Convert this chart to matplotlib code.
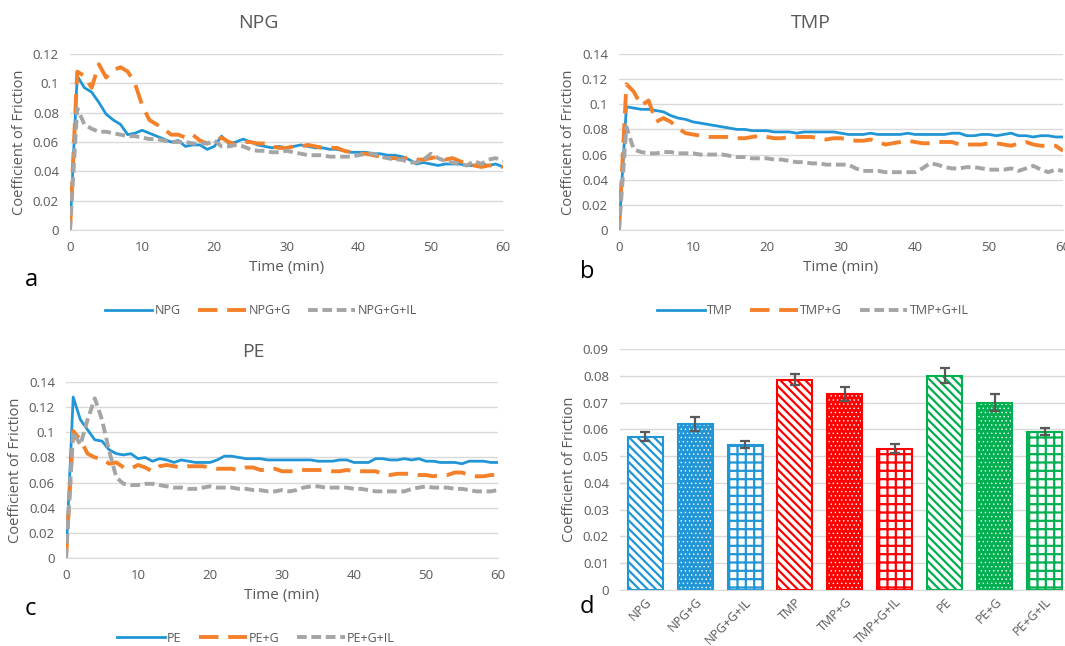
import matplotlib
matplotlib.use('Agg')
import matplotlib.pyplot as plt
import numpy as np

plt.rcParams['font.family'] = ['Open Sans', 'DejaVu Sans']
plt.rcParams['hatch.linewidth'] = 1.6

# ---- data ----
time_min = list(range(61))

npg = [0, 0.105, 0.097, 0.094, 0.087, 0.079, 0.075, 0.072, 0.065, 0.066,
       0.068, 0.066, 0.064, 0.062, 0.060, 0.061, 0.057, 0.058, 0.058, 0.055,
       0.057, 0.064, 0.059, 0.060, 0.062, 0.060, 0.058, 0.057, 0.056, 0.057,
       0.056, 0.057, 0.058, 0.057, 0.056, 0.056, 0.055, 0.055, 0.054, 0.053,
       0.053, 0.053, 0.052, 0.052, 0.051, 0.051, 0.050, 0.048, 0.045, 0.046,
       0.045, 0.044, 0.045, 0.045, 0.045, 0.044, 0.044, 0.045, 0.044, 0.045,
       0.043]
npg_g = [0, 0.108, 0.105, 0.097, 0.113, 0.104, 0.109, 0.111, 0.108, 0.100,
         0.085, 0.075, 0.072, 0.069, 0.065, 0.065, 0.063, 0.065, 0.061, 0.059,
         0.060, 0.063, 0.060, 0.058, 0.060, 0.060, 0.059, 0.059, 0.057, 0.056,
         0.056, 0.057, 0.057, 0.058, 0.057, 0.056, 0.056, 0.056, 0.054, 0.053,
         0.052, 0.052, 0.051, 0.050, 0.049, 0.049, 0.048, 0.050, 0.048, 0.048,
         0.049, 0.050, 0.048, 0.049, 0.047, 0.045, 0.044, 0.043, 0.044, 0.044,
         0.043]
npg_g_il = [0, 0.083, 0.072, 0.069, 0.067, 0.067, 0.066, 0.065, 0.064, 0.064,
            0.063, 0.062, 0.062, 0.061, 0.060, 0.060, 0.060, 0.059, 0.059, 0.059,
            0.061, 0.057, 0.057, 0.058, 0.057, 0.055, 0.054, 0.054, 0.053, 0.053,
            0.054, 0.053, 0.052, 0.051, 0.051, 0.051, 0.050, 0.050, 0.050, 0.050,
            0.051, 0.052, 0.052, 0.050, 0.049, 0.048, 0.048, 0.046, 0.046, 0.048,
            0.052, 0.049, 0.047, 0.046, 0.045, 0.044, 0.047, 0.045, 0.048, 0.049,
            0.047]

tmp = [0, 0.098, 0.097, 0.096, 0.096, 0.095, 0.094, 0.091, 0.089, 0.088,
       0.086, 0.085, 0.084, 0.083, 0.082, 0.081, 0.080, 0.080, 0.079, 0.079,
       0.079, 0.078, 0.078, 0.078, 0.077, 0.078, 0.078, 0.078, 0.078, 0.078,
       0.077, 0.076, 0.076, 0.076, 0.077, 0.076, 0.076, 0.076, 0.076, 0.077,
       0.076, 0.076, 0.076, 0.076, 0.076, 0.077, 0.077, 0.075, 0.075, 0.076,
       0.076, 0.075, 0.076, 0.077, 0.075, 0.075, 0.074, 0.075, 0.075, 0.074,
       0.074]
tmp_g = [0, 0.116, 0.110, 0.099, 0.103, 0.086, 0.089, 0.086, 0.081, 0.077,
         0.076, 0.075, 0.074, 0.074, 0.074, 0.074, 0.073, 0.073, 0.074, 0.075,
         0.074, 0.073, 0.073, 0.074, 0.074, 0.074, 0.074, 0.073, 0.072, 0.073,
         0.073, 0.072, 0.071, 0.071, 0.072, 0.070, 0.068, 0.069, 0.070, 0.071,
         0.070, 0.069, 0.069, 0.070, 0.070, 0.070, 0.068, 0.068, 0.068, 0.068,
         0.069, 0.069, 0.068, 0.067, 0.069, 0.070, 0.068, 0.067, 0.067, 0.067,
         0.063]
tmp_g_il = [0, 0.082, 0.064, 0.062, 0.061, 0.061, 0.062, 0.062, 0.061, 0.061,
            0.061, 0.060, 0.060, 0.060, 0.060, 0.059, 0.058, 0.058, 0.057, 0.057,
            0.057, 0.056, 0.056, 0.055, 0.054, 0.054, 0.053, 0.053, 0.052, 0.052,
            0.052, 0.052, 0.049, 0.047, 0.047, 0.047, 0.046, 0.046, 0.046, 0.046,
            0.046, 0.049, 0.053, 0.052, 0.050, 0.049, 0.049, 0.050, 0.050, 0.049,
            0.048, 0.048, 0.048, 0.049, 0.047, 0.049, 0.051, 0.048, 0.046, 0.048,
            0.047]

pe = [0, 0.128, 0.110, 0.102, 0.094, 0.093, 0.086, 0.083, 0.082, 0.083,
      0.079, 0.080, 0.077, 0.079, 0.078, 0.076, 0.078, 0.077, 0.076, 0.076,
      0.076, 0.078, 0.081, 0.081, 0.080, 0.079, 0.079, 0.079, 0.078, 0.078,
      0.078, 0.078, 0.078, 0.078, 0.078, 0.077, 0.077, 0.077, 0.078, 0.078,
      0.076, 0.076, 0.076, 0.079, 0.079, 0.078, 0.078, 0.079, 0.078, 0.079,
      0.077, 0.077, 0.076, 0.076, 0.076, 0.075, 0.077, 0.077, 0.077, 0.076,
      0.076]
pe_g = [0, 0.101, 0.094, 0.083, 0.080, 0.079, 0.075, 0.076, 0.072, 0.071,
        0.074, 0.072, 0.069, 0.073, 0.074, 0.073, 0.072, 0.073, 0.073, 0.073,
        0.072, 0.071, 0.071, 0.071, 0.070, 0.072, 0.072, 0.070, 0.070, 0.071,
        0.069, 0.069, 0.069, 0.070, 0.070, 0.070, 0.070, 0.069, 0.069, 0.070,
        0.069, 0.069, 0.069, 0.069, 0.067, 0.066, 0.067, 0.067, 0.067, 0.066,
        0.066, 0.065, 0.066, 0.066, 0.068, 0.068, 0.066, 0.065, 0.065, 0.066,
        0.066]
pe_g_il = [0, 0.100, 0.090, 0.110, 0.127, 0.110, 0.085, 0.064, 0.059, 0.058,
           0.058, 0.059, 0.059, 0.058, 0.057, 0.056, 0.056, 0.055, 0.055, 0.056,
           0.057, 0.056, 0.056, 0.056, 0.055, 0.055, 0.054, 0.054, 0.053, 0.053,
           0.054, 0.053, 0.054, 0.056, 0.057, 0.057, 0.056, 0.056, 0.056, 0.056,
           0.055, 0.055, 0.054, 0.053, 0.053, 0.053, 0.053, 0.053, 0.055, 0.056,
           0.057, 0.056, 0.056, 0.056, 0.055, 0.055, 0.054, 0.053, 0.053, 0.053,
           0.054]

bar_labels = ['NPG', 'NPG+G', 'NPG+G+IL', 'TMP', 'TMP+G', 'TMP+G+IL',
              'PE', 'PE+G', 'PE+G+IL']
bar_means = [0.0573, 0.0620, 0.0543, 0.0786, 0.0733, 0.0528, 0.0801, 0.0700, 0.0591]
bar_errs = [0.0018, 0.0026, 0.0014, 0.0020, 0.0026, 0.0018, 0.0028, 0.0032, 0.0014]

# ---- styling ----
GRAY_TXT = '#595959'
GRID = '#d9d9d9'
C_BLUE = '#2196d6'
C_ORANGE = '#f5802a'
C_GREY = '#a5a5a5'

fig = plt.figure(figsize=(10.65, 6.46), dpi=100)
W, H = 1065, 646


def px_axes(left, right, top, bottom):
    return fig.add_axes([left / W, 1 - bottom / H, (right - left) / W, (bottom - top) / H])


def style_axes(ax, ymax, ystep):
    ticks = np.round(np.arange(0, ymax + ystep / 2, ystep), 3)
    ax.set_ylim(0, ymax)
    ax.set_yticks(ticks)
    ax.set_yticklabels([f'{v:g}' for v in ticks])
    ax.grid(axis='y', color=GRID, lw=1)
    ax.set_axisbelow(True)
    for s in ['top', 'right', 'left']:
        ax.spines[s].set_visible(False)
    ax.spines['bottom'].set_color(GRID)
    ax.tick_params(length=0, colors=GRAY_TXT, labelsize=9.5, pad=8)
    ax.set_ylabel('Coefficient of Friction', color=GRAY_TXT, fontsize=10.5)


def line_panel(ax, series, names, ymax, title, title_xy, legend_xy):
    l1, = ax.plot(time_min, series[0], color=C_BLUE, lw=2, label=names[0])
    l2, = ax.plot(time_min, series[1], color=C_ORANGE, lw=2.8, dashes=(5, 2.5), label=names[1])
    l3, = ax.plot(time_min, series[2], color=C_GREY, lw=2.8, dashes=(2.5, 1.2), label=names[2])
    ax.set_xlim(0, 60)
    ax.set_xticks(range(0, 61, 10))
    style_axes(ax, ymax, 0.02)
    ax.set_xlabel('Time (min)', color=GRAY_TXT, fontsize=11, labelpad=4)
    fig.text(title_xy[0] / W, 1 - title_xy[1] / H, title, ha='center', va='center',
             fontsize=14, color=GRAY_TXT)
    fig.legend(handles=[l1, l2, l3], loc='center',
               bbox_to_anchor=(legend_xy[0] / W, 1 - legend_xy[1] / H),
               ncol=3, frameon=False, fontsize=9, handlelength=3.8,
               columnspacing=1.4, handletextpad=0.2, labelcolor=GRAY_TXT)


ax_a = px_axes(70, 503, 54, 230)
line_panel(ax_a, [npg, npg_g, npg_g_il], ['NPG', 'NPG+G', 'NPG+G+IL'], 0.12,
           'NPG', (258, 23), (261, 311))

ax_b = px_axes(619, 1063, 54, 230)
line_panel(ax_b, [tmp, tmp_g, tmp_g_il], ['TMP', 'TMP+G', 'TMP+G+IL'], 0.14,
           'TMP', (811, 23), (813, 311))

ax_c = px_axes(66, 498, 382, 558)
line_panel(ax_c, [pe, pe_g, pe_g_il], ['PE', 'PE+G', 'PE+G+IL'], 0.14,
           'PE', (253, 352), (256, 638))

# ---- bar panel ----
ax_d = px_axes(620, 1070, 349, 590)
group_colors = [C_BLUE] * 3 + ['#ff0000'] * 3 + ['#00b050'] * 3
x = np.arange(len(bar_labels))
for i in range(len(bar_labels)):
    c = group_colors[i]
    kind = i % 3
    if kind == 0:
        ax_d.bar(x[i], bar_means[i], width=0.7, facecolor='white', edgecolor=c,
                 hatch='\\\\\\\\', lw=1.5)
    elif kind == 1:
        dots = ax_d.bar(x[i], bar_means[i], width=0.7, facecolor=c, edgecolor='white',
                        hatch='....', lw=0)
        for p in dots:
            if hasattr(p, 'set_hatch_linewidth'):
                p.set_hatch_linewidth(0.5)
        ax_d.bar(x[i], bar_means[i], width=0.7, fill=False, edgecolor=c, lw=1.5)
    else:
        ax_d.bar(x[i], bar_means[i], width=0.7, facecolor='white', edgecolor=c,
                 hatch='++', lw=1.5)
ax_d.errorbar(x, bar_means, yerr=bar_errs, fmt='none', ecolor='#595959',
              elinewidth=1.6, capsize=3.5, capthick=1.6)
ax_d.set_xlim(-0.5, 8.5)
style_axes(ax_d, 0.09, 0.01)
ax_d.set_xticks(x)
ax_d.set_xticklabels(bar_labels, rotation=45, ha='right', rotation_mode='anchor',
                     fontsize=9)
ax_d.tick_params(axis='x', pad=4)

# panel letters
for letter, (lx, ly) in zip('abcd', [(31, 280), (587, 272), (30, 609), (587, 607)]):
    fig.text(lx / W, 1 - ly / H, letter, ha='center', va='center', fontsize=17, color='black')

fig.savefig('out.png', dpi=100)
